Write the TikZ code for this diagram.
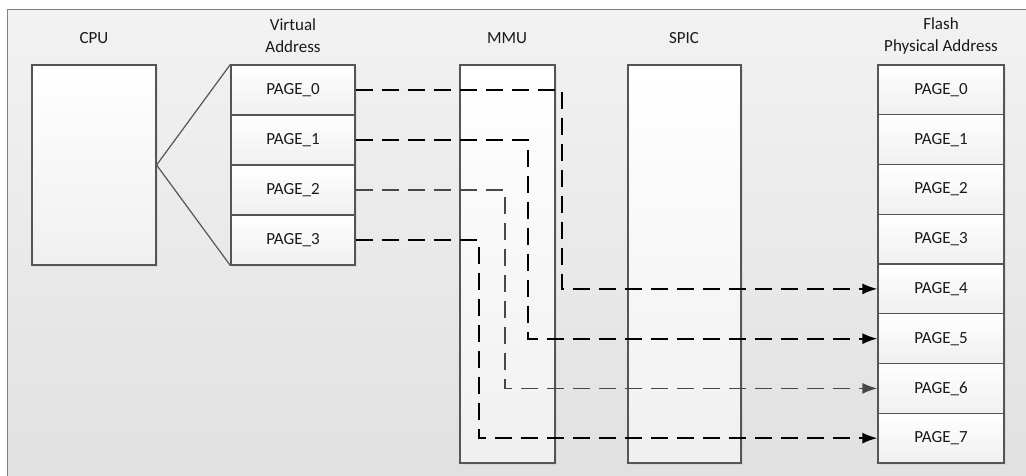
\documentclass[tikz,border=0pt]{standalone}
\usepackage{fontspec}
\setmainfont{Carlito}
\usetikzlibrary{arrows.meta,shadows}
\definecolor{edgegray}{HTML}{555555}
\definecolor{linkgray}{HTML}{484848}
\begin{document}
\begin{tikzpicture}[x=1pt, y=-1pt,
    every node/.style={font=\fontsize{17}{22}\selectfont, text=black!90},
    blockbox/.style={draw=edgegray, line width=1.2pt, top color=white, bottom color=black!6,
        inner sep=0pt, drop shadow={shadow xshift=2pt, shadow yshift=-2pt, opacity=0.12}},
    pagebox/.style={blockbox, minimum width=124pt, minimum height=50pt},
    link/.style={line width=1.9pt, dash pattern=on 17pt off 9pt,
        -{Latex[length=15pt, width=11pt]}}]
        \clip (0,0) rectangle (1026,476);
        \draw[draw=black!50, line width=1.5pt, top color=black!5, bottom color=black!12]
            (7.5,9.5) rectangle (1040,490);
        % labels
        \node (cpu-label) at (94,38) {CPU};
        \node[align=center] (va-label) at (293,36) {Virtual\\Address};
        \node (mmu-label) at (507,38) {MMU};
        \node (spic-label) at (684,38) {SPIC};
        \node[align=center] (fp-label) at (941,36) {Flash\\Physical Address};
        % blocks
        \node[blockbox, minimum width=124pt, minimum height=200pt] (cpu) at (94,165) {};
        \node[blockbox, minimum width=95pt, minimum height=398pt] (mmu) at (507.5,264) {};
        \node[blockbox, minimum width=113pt, minimum height=398pt] (spic) at (684.5,264) {};
        \foreach \i in {0,...,3}
            \node[pagebox] (va-\i) at (293,{90+50*\i}) {PAGE\_\i};
        \foreach \i in {0,...,7}
            \node[pagebox, minimum width=126pt, minimum height=49.75pt] (fp-\i) at (941,{89.9+49.75*\i}) {PAGE\_\i};
        \draw[edgegray, line width=1.2pt] (cpu.east) -- (va-0.north west);
        \draw[edgegray, line width=1.2pt] (cpu.east) -- (va-3.south west);
        % page mapping
        \foreach \src/\dst/\xturn in {0/4/562,1/5/528,3/7/479} {
            \coordinate (turn-\src) at (\xturn,0);
            \draw[link] (va-\src.east) -| (turn-\src |- fp-\dst.west) -- (fp-\dst.west);
        }
        \coordinate (turn-2) at (505,0);
        \draw[link, linkgray, line width=1.7pt] (va-2.east) -| (turn-2 |- fp-6.west) -- (fp-6.west);
    \end{tikzpicture}
\end{document}
